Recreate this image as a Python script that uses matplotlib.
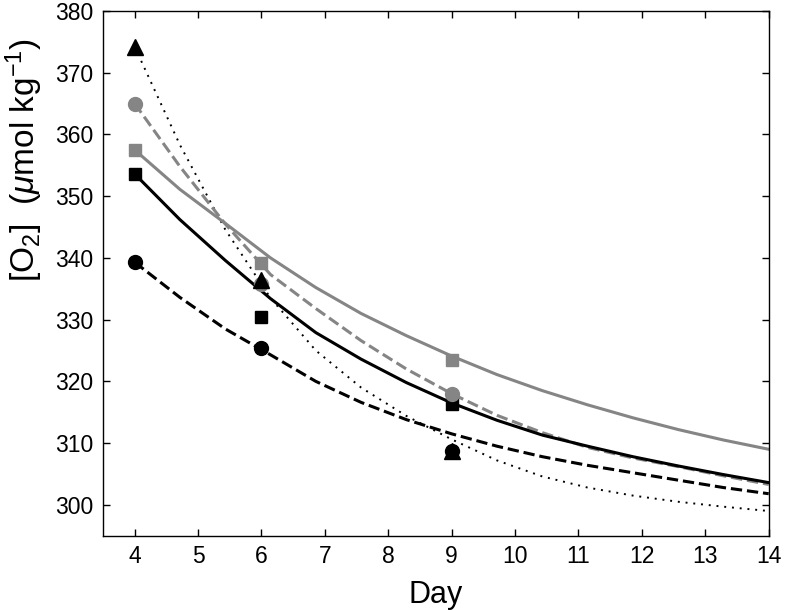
import numpy as np
import matplotlib
matplotlib.use('Agg')
import matplotlib.pyplot as plt

plt.rcParams['font.family'] = ['Liberation Sans', 'DejaVu Sans']
plt.rcParams['mathtext.fontset'] = 'custom'
plt.rcParams['mathtext.rm'] = 'Liberation Sans'
plt.rcParams['mathtext.it'] = 'Liberation Sans:italic'

# observed samples
obs_days = [4, 6, 9]
tri_black = [374.2, 336.5, 308.7]
circ_gray = [365.0, 335.7, 318.0]
sq_gray = [357.5, 339.2, 323.4]
sq_black = [353.6, 330.4, 316.4]
circ_black = [339.3, 325.4, 308.7]

# fitted curves
fit_days = [4.0, 4.714, 5.429, 6.143, 6.857, 7.571, 8.286, 9.0,
            9.714, 10.429, 11.143, 11.857, 12.571, 13.286, 14.0]
fit_sq_gray = [357.5, 351.1, 345.6, 340.0, 335.2, 331.0, 327.4, 324.1,
               321.1, 318.5, 316.2, 314.1, 312.2, 310.5, 309.0]
fit_sq_black = [353.6, 346.2, 339.6, 333.4, 327.9, 323.6, 319.8, 316.5,
                313.7, 311.3, 309.5, 307.8, 306.3, 304.9, 303.6]
fit_circ_gray = [365.0, 354.8, 345.5, 337.3, 331.8, 326.6, 322.0, 318.0,
                 314.5, 311.7, 309.3, 307.6, 306.2, 304.7, 303.3]
fit_circ_black = [339.3, 333.6, 328.5, 324.3, 320.0, 316.6, 313.8, 311.5,
                  309.5, 307.8, 306.4, 305.2, 304.0, 302.8, 301.8]
fit_tri_black = [374.2, 358.3, 344.6, 333.5, 325.0, 319.0, 314.4, 310.6,
                 307.2, 304.6, 302.8, 301.5, 300.5, 299.7, 299.0]

xticks = list(range(4, 15))
yticks = list(range(300, 381, 10))

gray = '#858585'
lw = 2.2

fig = plt.figure(figsize=(7.86, 6.10), dpi=100)
ax = fig.add_axes([0.131, 0.1218, 0.847, 0.8602])

ax.plot(fit_days, fit_tri_black, color='black', lw=1.4, dashes=(1, 3))
ax.plot(fit_days, fit_circ_black, color='black', lw=lw, ls='--')
ax.plot(fit_days, fit_circ_gray, color=gray, lw=lw, ls='--')
ax.plot(fit_days, fit_sq_black, color='black', lw=lw)
ax.plot(fit_days, fit_sq_gray, color=gray, lw=lw)

ax.plot(obs_days, sq_gray, 's', color=gray, ms=8.5, mec=gray)
ax.plot(obs_days, sq_black, 's', color='black', ms=8.5)
ax.plot(obs_days, circ_gray, 'o', color=gray, ms=10, mec=gray)
ax.plot(obs_days, tri_black, '^', color='black', ms=11)
ax.plot(obs_days, circ_black, 'o', color='black', ms=10)

ax.set_xlim(3.5, 14)
ax.set_ylim(295, 380)
ax.set_xticks(xticks)
ax.set_yticks(yticks)
ax.tick_params(direction='in', top=True, right=True, length=5, width=1,
               labelsize=16.5, pad=7)
for sp in ax.spines.values():
    sp.set_linewidth(1.0)

ax.set_xlabel('Day', fontsize=22, labelpad=8)
fig.text(0.031, 0.738, r'[O$_2$]  ($\mu$mol kg$^{-1}$)', rotation=90,
         ha='center', va='center', fontsize=24)

fig.savefig('out.png', dpi=100)
